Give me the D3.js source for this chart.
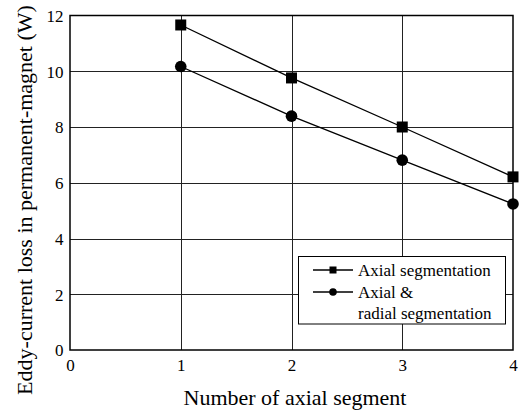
<!DOCTYPE html>
<html>
<head>
<meta charset="utf-8">
<script src="https://cdn.jsdelivr.net/npm/d3@7"></script>
<style>
  html, body { margin: 0; padding: 0; background: #fff; }
</style>
</head>
<body>
<svg id="chart" width="519" height="410"></svg>
<script>
// Eddy-current loss vs. number of axial segments
const segments = [1, 2, 3, 4];
const axialLoss = [11.66, 9.76, 8.0, 6.21];
const axialRadialLoss = [10.17, 8.39, 6.81, 5.24];
const xTicks = [0, 1, 2, 3, 4];
const yTicks = [0, 2, 4, 6, 8, 10, 12];
const seriesNames = ["Axial segmentation", ["Axial &", "radial segmentation"]];

const FONT = "'Liberation Serif'";
const svg = d3.select("#chart");
const plotL = 70, plotR = 513, plotT = 15.5, plotB = 350;

const x = d3.scaleLinear().domain([0, 4]).range([plotL, plotR]);
const y = d3.scaleLinear().domain([0, 12]).range([plotB, plotT]);

// grid
const grid = svg.append("g").attr("stroke", "#222").attr("stroke-width", 1);
grid.selectAll("line.h").data(yTicks.slice(1, -1)).join("line")
  .attr("x1", plotL).attr("x2", plotR)
  .attr("y1", d => Math.round(y(d)) + 0.5).attr("y2", d => Math.round(y(d)) + 0.5);
grid.selectAll("line.v").data(xTicks.slice(1, -1)).join("line")
  .attr("y1", plotT).attr("y2", plotB)
  .attr("x1", d => Math.round(x(d)) + 0.5).attr("x2", d => Math.round(x(d)) + 0.5);

// frame
svg.append("rect")
  .attr("x", plotL).attr("y", plotT)
  .attr("width", plotR - plotL).attr("height", plotB - plotT)
  .attr("fill", "none").attr("stroke", "#000").attr("stroke-width", 1.5);

// axes
const yAxis = svg.append("g").attr("transform", `translate(${plotL},0)`)
  .call(d3.axisLeft(y).tickValues(yTicks).tickFormat(d3.format("d")).tickSize(0).tickPadding(6.5));
yAxis.select(".domain").remove();
yAxis.selectAll("text")
  .style("font-family", FONT).style("font-size", "17px")
  .attr("dy", "0.35em").attr("fill", "#000");

const xAxis = svg.append("g").attr("transform", `translate(0,${plotB})`)
  .call(d3.axisBottom(x).tickValues(xTicks).tickFormat(d3.format("d")).tickSize(0).tickPadding(9));
xAxis.select(".domain").remove();
xAxis.selectAll("text")
  .style("font-family", FONT).style("font-size", "17px").attr("fill", "#000");

// axis titles
svg.append("text")
  .attr("x", 295).attr("y", 405)
  .attr("text-anchor", "middle")
  .style("font-family", FONT).style("font-size", "22px")
  .text("Number of axial segment");
svg.append("text")
  .attr("transform", "translate(31.5,200) rotate(-90)")
  .attr("text-anchor", "middle")
  .style("font-family", FONT).style("font-size", "22px")
  .text("Eddy-current loss in permanent-magnet (W)");

// series
const line = d3.line().x(d => x(d[0])).y(d => y(d[1]));
const sqData = segments.map((s, i) => [s, axialLoss[i]]);
const ciData = segments.map((s, i) => [s, axialRadialLoss[i]]);

svg.append("path").datum(sqData).attr("d", line)
  .attr("fill", "none").attr("stroke", "#000").attr("stroke-width", 1.3);
svg.append("path").datum(ciData).attr("d", line)
  .attr("fill", "none").attr("stroke", "#000").attr("stroke-width", 1.3);

svg.selectAll("rect.sq").data(sqData).join("rect")
  .attr("x", d => x(d[0]) - 5.5).attr("y", d => y(d[1]) - 5.5)
  .attr("width", 11).attr("height", 11).attr("fill", "#000");
svg.selectAll("circle.ci").data(ciData).join("circle")
  .attr("cx", d => x(d[0])).attr("cy", d => y(d[1])).attr("r", 5.8).attr("fill", "#000");

// legend
const lg = svg.append("g");
lg.append("rect").attr("x", 298.5).attr("y", 256.5).attr("width", 207).attr("height", 67.5)
  .attr("fill", "#fff").attr("stroke", "#000").attr("stroke-width", 1);
const rows = [270, 292];
rows.forEach((ry, i) => {
  lg.append("line").attr("x1", 313).attr("x2", 353).attr("y1", ry).attr("y2", ry)
    .attr("stroke", "#000").attr("stroke-width", 1.3);
  if (i === 0) {
    lg.append("rect").attr("x", 329.5).attr("y", ry - 3.5).attr("width", 7).attr("height", 7).attr("fill", "#000");
  } else {
    lg.append("circle").attr("cx", 333).attr("cy", ry).attr("r", 3.8).attr("fill", "#000");
  }
});
const legendText = [[seriesNames[0], rows[0] + 5.5], [seriesNames[1][0], rows[1] + 5.5], [seriesNames[1][1], rows[1] + 27]];
legendText.forEach(([t, ty]) => {
  lg.append("text").attr("x", 358).attr("y", ty)
    .style("font-family", FONT).style("font-size", "17px").text(t);
});
</script>
</body>
</html>
